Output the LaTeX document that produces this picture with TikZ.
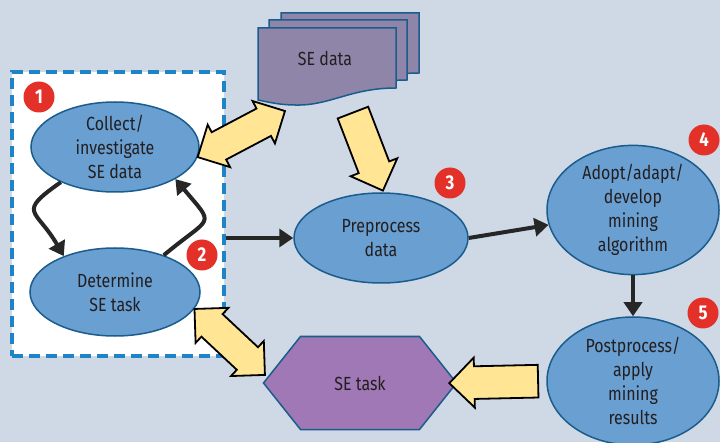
\documentclass[tikz,border=0pt]{standalone}
\usepackage{fontspec}
\setmainfont{Fira Sans}[FakeStretch=0.84]
\usetikzlibrary{positioning,calc,arrows.meta,shapes.geometric,shapes.arrows,shapes.symbols}

\definecolor{bgcol}{HTML}{CFD9E6}
\definecolor{stageblue}{HTML}{6A9FD2}
\definecolor{rimblue}{HTML}{1A5C8C}
\definecolor{dashblue}{HTML}{1E84C6}
\definecolor{docpurple}{HTML}{8E85A9}
\definecolor{taskpurple}{HTML}{A078B5}
\definecolor{fatyellow}{HTML}{FFE594}
\definecolor{badgered}{HTML}{E3312A}
\definecolor{inkcol}{HTML}{231F20}

\tikzset{x=1pt, y=1pt,
	every node/.style={text=inkcol, font=\fontsize{19}{24}\selectfont},
	stage/.style={
		ellipse, draw=rimblue, line width=1.5pt,
		fill=stageblue, align=center, inner sep=0},
	badge/.style={
		circle, fill=badgered, inner sep=0, minimum size=31pt,
		text=white, font=\bfseries\fontsize{20}{20}\selectfont},
	flow/.style={
		draw=black!85, line width=4pt,
		-{Triangle[length=14pt,width=18pt]}},
	page/.style={draw=rimblue, line width=1.5pt, fill=docpurple},
	fatsingle/.style={
		single arrow, draw=black, line width=1.8pt, fill=fatyellow,
		inner sep=0, inner ysep=12.5pt, minimum width=50pt},
	fatdouble/.style={
		double arrow, draw=black, line width=1.8pt, fill=fatyellow,
		inner sep=0, inner ysep=12pt, minimum width=48pt}
}

% wide yellow arrow between two points
\newcommand{\fatarrow}[3]{%
	\path let \p1=($(#3)-(#2)$) in
		node[#1, minimum height={veclen(\x1,\y1)}, rotate={atan2(\y1,\x1)}]
		at ($(#2)!0.5!(#3)$) {};}

% one sheet of the data stack
\newcommand{\sheet}[1]{%
	\draw[page, shift={#1}] (0,0) -- (0,72) -- (138,72) -- (138,12)
		.. controls (92,12) and (72,-6) .. (37,-5)
		.. controls (22,-5) and (10,-2) .. (0,0) -- cycle;}

\begin{document}
\begin{tikzpicture}
	\useasboundingbox[fill=bgcol] (0,0) rectangle (720,442);

	% investigation loop
	\node[draw=dashblue, line width=4pt, dash pattern=on 11pt off 6pt, fill=white,
		minimum width=212pt, minimum height=284pt, inner sep=0] (box) at (118,228) {};
	\node[stage, minimum width=168pt, minimum height=90pt] (collect) at (115,295)
		{Collect/\\investigate\\SE data};
	\node[stage, minimum width=170pt, minimum height=88pt] (determine) at (115,150)
		{Determine\\SE task};

	% mining steps
	\node[stage, minimum width=174pt, minimum height=90pt] (prep) at (381,204)
		{Preprocess\\data};
	\node[stage, minimum width=172pt, minimum height=124pt] (algo) at (633,232)
		{Adopt/adapt/\\develop\\mining\\algorithm};
	\node[stage, minimum width=172pt, minimum height=128pt] (post) at (633,61)
		{Postprocess/\\apply\\mining\\results};

	\node[signal, signal to=west and east, signal pointer angle=103,
		draw=rimblue, line width=1.5pt, fill=taskpurple, inner sep=0,
		minimum width=193pt, minimum height=93pt] (task) at (360,59) {SE task};

	% data stack
	\sheet{(281,357)}
	\sheet{(269,350)}
	\sheet{(258,342)}
	\node (data) at (325,384) {SE data};

	\node[badge] (b1) at (39,345) {1};
	\node[badge] (b2) at (202,187) {2};
	\node[badge] (b3) at (450,259) {3};
	\node[badge] (b4) at (704,302) {4};
	\node[badge] (b5) at (703,129) {5};

	\draw[flow] (collect.213) to[out=215, in=120, looseness=1.9] (determine.145);
	\draw[flow] (determine.37) to[out=40, in=-50, looseness=2.1] (collect.-28);
	\draw[flow] (box.east |- prep.west) -- (prep.west);
	\draw[flow] (prep.east) -- (algo.190);
	\draw[flow] (algo.south) -- (post.north);

	\coordinate (datafoot) at (285,331);
	\coordinate (datadrop) at (350,337);
	\coordinate (prepin) at (380,259);
	\coordinate (taskin) at (265,67);
	\fatarrow{fatdouble}{collect.-7}{datafoot}
	\fatarrow{fatsingle}{datadrop}{prepin}
	\fatarrow{fatsingle}{post.west}{task.east}
	\fatarrow{fatdouble}{determine.-12}{taskin}
\end{tikzpicture}
\end{document}
